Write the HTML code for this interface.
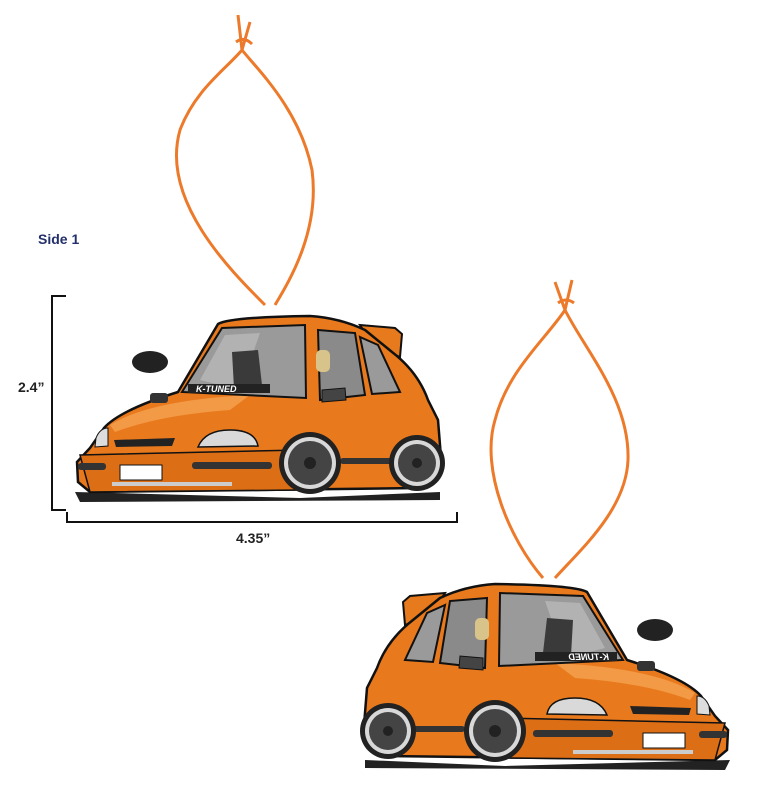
<!DOCTYPE html>
<html><head><style>
html,body{margin:0;padding:0;background:#fff;width:765px;height:800px;overflow:hidden}
svg{display:block}
</style></head><body>
<svg width="765" height="800" viewBox="0 0 765 800" xmlns="http://www.w3.org/2000/svg">
<defs>
<g id="car">
  <!-- shadow -->
  <path d="M75,492 L300,498 L440,492 L440,500 L80,502 Z" fill="#222"/>
  <!-- spoiler -->
  <path d="M360,325 L395,328 L402,334 L400,357 L388,352 L370,340 Z" fill="#e67a1c" stroke="#111" stroke-width="2"/>
  <!-- body -->
  <path d="M218,324 Q230,317 310,316 Q340,318 365,330 L392,352 Q418,372 428,400 L438,420 L442,470 L420,488 L90,492 L78,482 L77,462 L90,448 L104,428 Q120,410 178,392 Z" fill="#e8791d" stroke="#111" stroke-width="2.5"/>
  <!-- hood highlight -->
  <path d="M110,425 Q150,400 250,395 L230,410 Q160,415 115,432 Z" fill="#f29a45"/>
  <!-- windshield -->
  <path d="M182,392 L222,328 L305,325 L306,398 Z" fill="#9a9a9a" stroke="#111" stroke-width="2"/>
  <path d="M200,380 L225,335 L260,333 L240,390 Z" fill="#bcbcbc" opacity=".7"/>
  <!-- side windows -->
  <path d="M318,330 L355,333 L365,395 L320,400 Z" fill="#8a8a8a" stroke="#111" stroke-width="2"/>
  <path d="M360,337 L378,345 L400,392 L372,394 Z" fill="#9a9a9a" stroke="#111" stroke-width="2"/>
  <!-- face -->
  <rect x="316" y="350" width="14" height="22" rx="5" fill="#d8c48a"/>
  <!-- seat -->
  <path d="M232,352 L258,350 L262,385 L234,388 Z" fill="#3a3a3a"/>
  <!-- mirror -->
  <path d="M322,390 L345,388 L346,400 L322,402 Z" fill="#444" stroke="#111"/>
  <!-- banner -->
  <rect x="188" y="384" width="82" height="9" fill="#222"/>
  <text x="196" y="392" font-family="Liberation Sans, sans-serif" font-weight="bold" font-style="italic" font-size="9" fill="#fff">K-TUNED</text>
  <!-- hood scoop -->
  <rect x="150" y="393" width="18" height="10" rx="3" fill="#333"/>
  <!-- front fascia -->
  <path d="M80,455 L300,450 L300,490 L90,492 Z" fill="#dc6e16" stroke="#111" stroke-width="1.5"/>
  <path d="M114,440 L175,438 L172,446 L116,447 Z" fill="#222"/>
  <path d="M96,438 Q100,428 108,428 L108,446 L95,447 Z" fill="#ddd" stroke="#111"/>
  <path d="M198,447 Q205,430 230,430 Q255,430 258,446 Z" fill="#d9d9d9" stroke="#111" stroke-width="1.5"/>
  <rect x="78" y="463" width="28" height="7" rx="3" fill="#333"/>
  <rect x="192" y="462" width="80" height="7" rx="3" fill="#333"/>
  <rect x="120" y="465" width="42" height="15" fill="#fff" stroke="#111"/>
  <rect x="112" y="482" width="120" height="4" fill="#ccc"/>
  <!-- rear side details -->
  <rect x="340" y="458" width="60" height="6" rx="3" fill="#333"/>
  <!-- wheels -->
  <circle cx="310" cy="463" r="31" fill="#222"/>
  <circle cx="310" cy="463" r="26" fill="#d8d8d8"/>
  <circle cx="310" cy="463" r="22" fill="#444"/>
  <circle cx="310" cy="463" r="6" fill="#222"/>
  <circle cx="417" cy="463" r="28" fill="#222"/>
  <circle cx="417" cy="463" r="23" fill="#d8d8d8"/>
  <circle cx="417" cy="463" r="19" fill="#444"/>
  <circle cx="417" cy="463" r="5" fill="#222"/>
  <!-- cloud -->
  <ellipse cx="150" cy="362" rx="18" ry="11" fill="#222"/>
</g>
</defs>
<text x="38" y="244" font-family="Liberation Sans, sans-serif" font-weight="bold" font-size="14" fill="#23306b">Side 1</text>
<path d="M66,296 L52,296 L52,510 L66,510" fill="none" stroke="#111" stroke-width="2"/>
<text x="18" y="392" font-family="Liberation Sans, sans-serif" font-weight="bold" font-size="14" fill="#222">2.4”</text>
<path d="M67,512 L67,522 L457,522 L457,512" fill="none" stroke="#111" stroke-width="2"/>
<text x="236" y="543" font-family="Liberation Sans, sans-serif" font-weight="bold" font-size="14" fill="#222">4.35”</text>
<!-- strings -->
<g fill="none" stroke="#ec7a2a" stroke-width="3">
  <path d="M265,305 C230,270 160,200 180,130 C195,90 225,70 242,50 C258,70 300,110 312,170 C320,230 290,280 275,305"/>
  <path d="M242,50 L238,15 M242,50 L250,22 M236,42 Q244,36 252,44"/>
  <path d="M543,578 C510,540 480,470 495,420 C508,370 545,340 565,310 C585,350 630,400 628,460 C626,510 580,550 555,578"/>
  <path d="M565,310 L555,282 M565,310 L572,280 M558,303 Q566,297 574,303"/>
</g>
<use href="#car"/>
<use href="#car" transform="translate(805,268) scale(-1,1)"/>
</svg>
</body></html>
